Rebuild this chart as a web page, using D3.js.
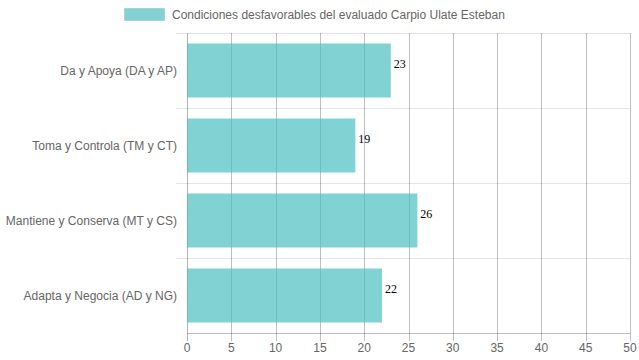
<!DOCTYPE html>
<html>
<head>
<meta charset="utf-8">
<script src="https://cdn.jsdelivr.net/npm/d3@7"></script>
<style>
  body { margin: 0; background: #fff; }
  text { font-family: "Liberation Sans", Arial, sans-serif; }
</style>
</head>
<body>
<script>
// data
var categories = ["Da y Apoya (DA y AP)", "Toma y Controla (TM y CT)", "Mantiene y Conserva (MT y CS)", "Adapta y Negocia (AD y NG)"];
var values = [23, 19, 26, 22];
var xTicks = [0, 5, 10, 15, 20, 25, 30, 35, 40, 45, 50];
var seriesName = "Condiciones desfavorables del evaluado Carpio Ulate Esteban";

var width = 639, height = 360;
var margin = {top: 33, right: 9, bottom: 27, left: 187};

var svg = d3.select("body").append("svg")
    .attr("width", width)
    .attr("height", height);

var x = d3.scaleLinear().domain([0, 50]).range([margin.left, width - margin.right]);
var y = d3.scaleBand().domain(categories).range([margin.top, height - margin.bottom]).paddingInner(0).paddingOuter(0);
var barH = y.bandwidth() * 0.72;

//horizontal category lines
svg.selectAll(".hgrid")
    .data(categories)
    .enter().append("line")
    .attr("x1", margin.left - 11).attr("x2", width - margin.right)
    .attr("y1", function(d){ return y(d) + 0.5; })
    .attr("y2", function(d){ return y(d) + 0.5; })
    .attr("stroke", "rgba(0,0,0,0.1)");

//vertical grid lines
svg.selectAll(".vgrid")
    .data(xTicks)
    .enter().append("line")
    .attr("x1", function(d){ return Math.round(x(d)) + 0.5; })
    .attr("x2", function(d){ return Math.round(x(d)) + 0.5; })
    .attr("y1", margin.top)
    .attr("y2", height - margin.bottom + 8)
    .attr("stroke", function(d){ return d === 0 ? "rgba(0,0,0,0.3)" : "rgba(0,0,0,0.25)"; });

//x axis line
svg.append("line")
    .attr("x1", margin.left).attr("x2", width - margin.right)
    .attr("y1", height - margin.bottom + 0.5).attr("y2", height - margin.bottom + 0.5)
    .attr("stroke", "rgba(0,0,0,0.25)");

//bars
svg.selectAll(".bar")
    .data(values)
    .enter().append("rect")
    .attr("class", "bar")
    .attr("x", x(0))
    .attr("y", function(d, i){ return y(categories[i]) + (y.bandwidth() - barH) / 2; })
    .attr("width", function(d){ return x(d) - x(0); })
    .attr("height", barH)
    .attr("fill", "rgba(75,192,192,0.7)");

//value labels
svg.selectAll(".val")
    .data(values)
    .enter().append("text")
    .attr("x", function(d){ return x(d) + 3; })
    .attr("y", function(d, i){ return y(categories[i]) + y.bandwidth() / 2 - 3; })
    .style("font-family", "'Liberation Serif', 'Times New Roman', serif")
    .style("font-size", "12px")
    .attr("fill", "#000")
    .text(function(d){ return d; });

//x tick labels
svg.selectAll(".xlab")
    .data(xTicks)
    .enter().append("text")
    .attr("x", function(d){ return x(d); })
    .attr("y", height - margin.bottom + 19)
    .attr("text-anchor", "middle")
    .style("font-size", "12px")
    .attr("fill", "#666")
    .text(function(d){ return d; });

//category labels
svg.selectAll(".ylab")
    .data(categories)
    .enter().append("text")
    .attr("x", margin.left - 10)
    .attr("y", function(d){ return y(d) + y.bandwidth() / 2 + 4; })
    .attr("text-anchor", "end")
    .style("font-size", "12px")
    .attr("fill", "#666")
    .text(function(d){ return d; });

//legend
var legend = svg.append("g").attr("transform", "translate(124, 8)");
legend.append("rect")
    .attr("width", 40).attr("height", 12)
    .attr("x", 0.5).attr("y", 0.5)
    .attr("fill", "rgba(75,192,192,0.7)")
    .attr("stroke", "rgba(0,0,0,0.1)");
legend.append("text")
    .attr("x", 48).attr("y", 11)
    .style("font-size", "12px")
    .attr("fill", "#666")
    .text(seriesName);
</script>
</body>
</html>
